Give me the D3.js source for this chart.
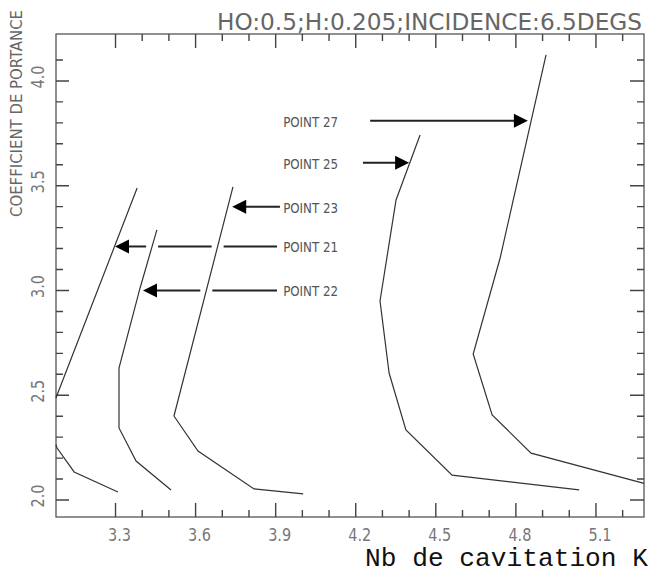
<!DOCTYPE html>
<html>
<head>
<meta charset="utf-8">
<script src="https://cdn.jsdelivr.net/npm/d3@7"></script>
<style>
  body { margin: 0; background: #fff; }
  .plotter { font-family: "DejaVu Sans Condensed", "Liberation Sans Narrow", sans-serif; fill: #666; }
  .curve { fill: none; stroke: #333; stroke-width: 1.2; }
</style>
</head>
<body>
<svg width="658" height="578"></svg>
<script>
// tick labels
const kTicks = [3.3, 3.6, 3.9, 4.2, 4.5, 4.8, 5.1];
const clTicks = [2.0, 2.5, 3.0, 3.5, 4.0];

// curves, [K, CL]
const point21 = [[3.381, 3.489], [3.081, 2.501], [3.047, 2.382], [3.081, 2.248], [3.145, 2.134], [3.309, 2.038]];
const point22 = [[3.455, 3.289], [3.392, 3.012], [3.313, 2.630], [3.313, 2.344], [3.377, 2.186], [3.508, 2.048]];
const point23 = [[3.740, 3.494], [3.519, 2.401], [3.609, 2.234], [3.819, 2.053], [4.003, 2.029]];
const point25 = [[4.441, 3.742], [4.351, 3.432], [4.291, 2.950], [4.325, 2.606], [4.388, 2.334], [4.561, 2.119], [5.037, 2.048]];
const point27 = [[4.913, 4.124], [4.741, 3.155], [4.640, 2.697], [4.711, 2.406], [4.857, 2.224], [5.302, 2.072]];

// annotations: label, CL level, shaft start K, arrow tip K
const labels = ["POINT 27", "POINT 25", "POINT 23", "POINT 21", "POINT 22"];
const labelCL = [3.81, 3.61, 3.40, 3.21, 3.00];
const arrowFrom = [4.254, 4.227, 3.916, 3.905, 3.905];
const arrowTo = [4.845, 4.400, 3.737, 3.298, 3.403];
const labelK = 3.928;

const svg = d3.select('svg');
const margin = { top: 34, left: 56, right: 14, bottom: 61 };
const width = +svg.attr('width') - margin.left - margin.right;
const height = +svg.attr('height') - margin.top - margin.bottom;

const g = svg.append("g").attr("transform", `translate(${margin.left}, ${margin.top})`);

const x = d3.scaleLinear().domain([3.077, 5.280]).range([0, width]);
const y = d3.scaleLinear().domain([1.919, 4.224]).range([height, 0]);

const curveLine = d3.line()
    .x(function (d) { return x(d[0]); })
    .y(function (d) { return y(d[1]); });

// cut a polyline at the left/right frame, returns pieces
function clipX(pts, lo, hi) {
    const pieces = [];
    let cur = [];
    pts.forEach(function (p, i) {
        const inside = p[0] >= lo && p[0] <= hi;
        if (i > 0) {
            const q = pts[i - 1];
            const qIn = q[0] >= lo && q[0] <= hi;
            if (qIn !== inside) {
                const out = inside ? q : p;
                const edge = out[0] < lo ? lo : hi;
                const t = (edge - q[0]) / (p[0] - q[0]);
                cur.push([edge, q[1] + t * (p[1] - q[1])]);
                if (!inside) { pieces.push(cur); cur = []; }
            }
        }
        if (inside) cur.push(p);
    });
    if (cur.length > 1) pieces.push(cur);
    return pieces;
}

const curves = [point21, point22, point23, point25, point27].map(function (c) {
    return clipX(c, x.domain()[0], x.domain()[1]);
});

// frame
g.append("rect")
    .attr("width", width).attr("height", height)
    .attr("fill", "none").attr("stroke", "#555").attr("stroke-width", 1.3);

// ticks every 0.1, longer on the labelled values; drawn as one path per side
const kMinor = d3.range(33, 53).map(function (i) { return i / 10; });
const clMinor = d3.range(20, 42).map(function (i) { return i / 10; });

function isMajor(v, list) {
    return list.some(function (t) { return Math.abs(t - v) < 1e-6; });
}

let tickPath = "";
kMinor.forEach(function (v) {
    const len = isMajor(v, kTicks) ? 14 : 7;
    tickPath += `M${x(v)},${height}V${height - len}`;
    tickPath += `M${x(v)},0V${len}`;
});
clMinor.forEach(function (v) {
    const big = isMajor(v, clTicks);
    tickPath += `M0,${y(v)}H${big ? 13 : 7}`;
    tickPath += `M${width},${y(v)}H${width - (big ? 14 : 7)}`;
});
g.append("path")
    .attr("d", tickPath)
    .attr("fill", "none").attr("stroke", "#444").attr("stroke-width", 1.4);

// tick labels
g.selectAll(".klab").data(kTicks).enter().append("text")
    .attr("class", "plotter")
    .attr("x", d => x(d) + 4).attr("y", height + 24)
    .attr("text-anchor", "middle")
    .attr("textLength", 23).attr("lengthAdjust", "spacingAndGlyphs")
    .style("font-size", "17px").style("fill", "#777")
    .text(d => d.toFixed(1));

g.selectAll(".clab").data(clTicks).enter().append("text")
    .attr("class", "plotter")
    .attr("transform", d => `translate(${-12}, ${y(d) - 4}) rotate(-90)`)
    .attr("text-anchor", "middle")
    .attr("textLength", 23).attr("lengthAdjust", "spacingAndGlyphs")
    .style("font-size", "18px").style("fill", "#777")
    .text(d => d.toFixed(1));

// titles
svg.append("text")
    .attr("class", "plotter")
    .attr("x", 217).attr("y", 30)
    .attr("textLength", 425).attr("lengthAdjust", "spacingAndGlyphs")
    .style("font-size", "23px").style("fill", "#666")
    .text("HO:0.5;H:0.205;INCIDENCE:6.5DEGS");

svg.append("text")
    .attr("class", "plotter")
    .attr("transform", "translate(22, 217) rotate(-90)")
    .attr("textLength", 207).attr("lengthAdjust", "spacingAndGlyphs")
    .style("font-size", "15px").style("fill", "#666")
    .text("COEFFICIENT DE PORTANCE");

svg.append("text")
    .attr("x", 648).attr("y", 566)
    .attr("text-anchor", "end")
    .attr("textLength", 283).attr("lengthAdjust", "spacingAndGlyphs")
    .style("font-family", "'Liberation Mono', 'DejaVu Sans Mono', monospace")
    .style("font-size", "25px").style("fill", "#111")
    .text("Nb de cavitation K");

// arrows
const notes = labels.map(function (l, i) {
    return { label: l, cl: labelCL[i], from: arrowFrom[i], to: arrowTo[i] };
});

// shaft pieces, broken where a curve crosses
function shaftPieces(d) {
    const y0 = y(d.cl);
    const a = x(d.from), b = x(d.to) + (d.to > d.from ? -12 : 12);
    const lo = Math.min(a, b), hi = Math.max(a, b);
    const hits = [];
    curves.forEach(function (pieces) {
        pieces.forEach(function (pts) {
            for (let i = 1; i < pts.length; i++) {
                const x1 = x(pts[i - 1][0]), y1 = y(pts[i - 1][1]);
                const x2 = x(pts[i][0]), y2 = y(pts[i][1]);
                if ((y1 - y0) * (y2 - y0) <= 0 && y1 !== y2) {
                    const cx = x1 + (y0 - y1) / (y2 - y1) * (x2 - x1);
                    if (cx > lo && cx < hi) hits.push(cx);
                }
            }
        });
    });
    hits.sort(d3.ascending);
    const segs = [];
    let start = lo;
    hits.forEach(function (h) {
        if (h - 6 > start) segs.push([start, h - 6]);
        start = h + 6;
    });
    if (hi > start) segs.push([start, hi]);
    return segs.map(function (s) { return { x1: s[0], x2: s[1], y: y0 }; });
}

g.selectAll(".shaft").data(notes.flatMap(shaftPieces)).enter().append("line")
    .attr("x1", d => d.x1).attr("x2", d => d.x2)
    .attr("y1", d => d.y).attr("y2", d => d.y)
    .attr("stroke", "#222").attr("stroke-width", 2);

g.selectAll(".head").data(notes).enter().append("path")
    .attr("d", function (d) {
        const tx = x(d.to), ty = y(d.cl), s = d.to > d.from ? -1 : 1;
        return `M${tx},${ty}L${tx + s * 14},${ty - 7}L${tx + s * 14},${ty + 7}Z`;
    })
    .attr("fill", "#000");

g.selectAll(".note").data(notes).enter().append("text")
    .attr("class", "plotter")
    .attr("x", x(labelK)).attr("y", d => y(d.cl) + 6)
    .attr("textLength", 55).attr("lengthAdjust", "spacingAndGlyphs")
    .style("font-size", "14px").style("fill", "#555")
    .text(d => d.label);

// curves
g.selectAll(".curve").data(curves).enter().append("path")
    .attr("class", "curve")
    .attr("d", function (pieces) { return pieces.map(curveLine).join(""); });
</script>
</body>
</html>
